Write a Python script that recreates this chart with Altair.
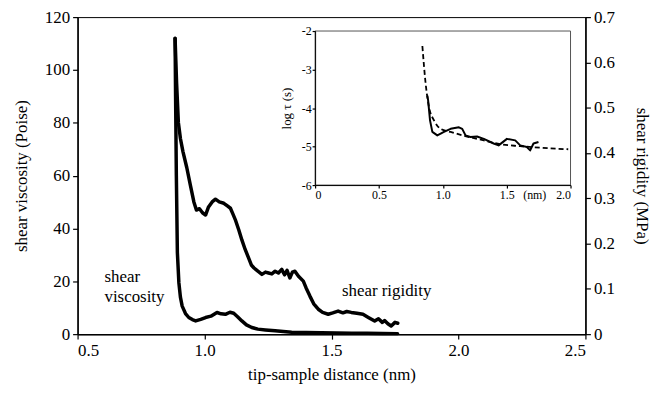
import altair as alt
import pandas as pd

FONT = "Liberation Serif"

# ---- main panel: shear viscosity (Poise) vs tip-sample distance (nm)
visc_x = [0.884, 0.886, 0.889, 0.893, 0.899, 0.905, 0.912, 0.925, 0.938, 0.952, 0.965, 0.985,
          1.004, 1.025, 1.049, 1.065, 1.082, 1.100, 1.115, 1.130, 1.147, 1.165, 1.186, 1.21,
          1.24, 1.278, 1.31, 1.343, 1.40, 1.46, 1.52, 1.58, 1.64, 1.70, 1.76]
visc_y = [112, 90, 60, 31, 19.4, 14, 10.6, 7.8, 6.3, 5.5, 5.0, 5.6,
          6.3, 6.8, 8.2, 7.7, 7.5, 8.3, 7.9, 6.6, 5.0, 3.5, 2.5, 1.9,
          1.6, 1.3, 1.0, 0.7, 0.6, 0.5, 0.4, 0.35, 0.3, 0.25, 0.2]

# ---- main panel: shear rigidity (MPa)
rig_x = [0.884, 0.890, 0.897, 0.905, 0.915, 0.930, 0.945, 0.958, 0.968, 0.980, 0.992, 1.004,
         1.015, 1.030, 1.043, 1.058, 1.076, 1.090, 1.102, 1.112, 1.121, 1.135, 1.147, 1.160,
         1.173, 1.185, 1.195, 1.21, 1.226, 1.24, 1.252, 1.265, 1.278, 1.291, 1.304, 1.315,
         1.325, 1.336, 1.346, 1.356, 1.37, 1.389, 1.40, 1.415, 1.43, 1.448, 1.465, 1.487,
         1.505, 1.526, 1.545, 1.56, 1.578, 1.60, 1.624, 1.645, 1.670, 1.685, 1.70, 1.709,
         1.722, 1.735, 1.75, 1.761]
rig_y = [0.653, 0.554, 0.467, 0.432, 0.403, 0.368, 0.327, 0.292, 0.274, 0.277, 0.268, 0.263,
         0.280, 0.292, 0.298, 0.292, 0.289, 0.283, 0.278, 0.265, 0.253, 0.230, 0.208, 0.187,
         0.169, 0.152, 0.146, 0.139, 0.132, 0.137, 0.135, 0.133, 0.139, 0.135, 0.143, 0.131,
         0.141, 0.124, 0.137, 0.139, 0.128, 0.117, 0.102, 0.084, 0.067, 0.055, 0.048, 0.044,
         0.047, 0.051, 0.047, 0.050, 0.048, 0.046, 0.044, 0.037, 0.029, 0.034, 0.026, 0.030,
         0.023, 0.018, 0.026, 0.024]

# ---- inset: log tau (s)
ins_solid_x = [0.879, 0.885, 0.900, 0.918, 0.957, 1.009, 1.061, 1.126, 1.152, 1.178, 1.216,
               1.268, 1.321, 1.398, 1.437, 1.502, 1.567, 1.606, 1.658, 1.684, 1.710, 1.749]
ins_solid_y = [-3.68, -3.80, -4.32, -4.62, -4.71, -4.62, -4.54, -4.50, -4.54, -4.71, -4.75,
               -4.74, -4.80, -4.92, -4.97, -4.80, -4.84, -4.97, -5.01, -5.10, -4.92, -4.88]
ins_dash_x = [0.840, 0.866, 0.892, 0.931, 0.983, 1.061, 1.191, 1.321, 1.450, 1.606, 1.761, 1.982]
ins_dash_y = [-2.39, -3.38, -3.98, -4.32, -4.54, -4.62, -4.74, -4.84, -4.94, -4.99, -5.03, -5.07]

labels_text = ["shear\nviscosity", "shear rigidity"]
labels_x = [0.606, 1.541]
labels_y = [19.9, 14.3]

main_x_ticks = [0.5, 1.0, 1.5, 2.0, 2.5]
visc_ticks = [0, 20, 40, 60, 80, 100, 120]
rig_ticks = [0, 0.1, 0.2, 0.3, 0.4, 0.5, 0.6, 0.7]
ins_x_ticks = [0, 0.5, 1.0, 1.5, 2.0]
ins_y_ticks = [-6, -5, -4, -3, -2]

W, H = 511, 319
INS_X_RANGE = [239, 496]
INS_Y_RANGE = [169, 14]

df_visc = pd.DataFrame({"x": visc_x, "v": visc_y})
df_rig = pd.DataFrame({"x": rig_x, "r": rig_y})
df_solid = pd.DataFrame({"x": ins_solid_x, "t": ins_solid_y})
df_dash = pd.DataFrame({"x": ins_dash_x, "t": ins_dash_y})
df_lab = pd.DataFrame({"x": labels_x, "y": labels_y, "text": labels_text})
df_box = pd.DataFrame({"x0": [0], "x1": [2], "y0": [-6], "y1": [-2]})
df_nm = pd.DataFrame({"x": [1.72], "y": [-6], "text": ["(nm)"]})

xs_main = alt.Scale(domain=[0.5, 2.5], nice=False, zero=False)
ys_visc = alt.Scale(domain=[0, 120], nice=False, zero=False)
ys_rig = alt.Scale(domain=[0, 0.7], nice=False, zero=False)
xs_ins = alt.Scale(domain=[0, 2], range=INS_X_RANGE, nice=False, zero=False)
ys_ins = alt.Scale(domain=[-6, -2], range=INS_Y_RANGE, nice=False, zero=False)

line_style = dict(color="black", strokeWidth=3.5, strokeCap="round", strokeJoin="round")

visc = alt.Chart(df_visc).mark_line(**line_style).encode(
    x=alt.X("x:Q", scale=xs_main, axis=alt.Axis(
        orient="bottom", values=main_x_ticks, format=".1f",
        title="tip-sample distance (nm)", titlePadding=9)),
    y=alt.Y("v:Q", scale=ys_visc, axis=alt.Axis(
        orient="left", values=visc_ticks, title="shear viscosity (Poise)", titlePadding=14)),
)

rig = alt.Chart(df_rig).mark_line(**line_style).encode(
    x=alt.X("x:Q", scale=xs_main, axis=None),
    y=alt.Y("r:Q", scale=ys_rig, axis=alt.Axis(
        orient="right", values=rig_ticks,
        labelExpr="datum.value == 0 ? '0' : format(datum.value, '.1f')",
        title="shear rigidity (MPa)", titlePadding=18)),
)

labels = alt.Chart(df_lab).mark_text(
    align="left", baseline="alphabetic", font=FONT, fontSize=17, lineBreak="\n",
    lineHeight=21, color="black").encode(
    x=alt.X("x:Q", scale=xs_main, axis=None),
    y=alt.Y("y:Q", scale=ys_visc, axis=None),
    text="text:N",
)

box = alt.Chart(df_box).mark_rect(fill="white", stroke="#555555", strokeWidth=1).encode(
    x=alt.X("x0:Q", scale=xs_ins, axis=alt.Axis(
        orient="bottom", offset=INS_Y_RANGE[0] - H, values=ins_x_ticks,
        labelExpr="datum.value == 0 ? '0' : format(datum.value, '.1f')",
        labelFontSize=12, tickSize=3, labelPadding=2, domainWidth=1, title=None, zindex=1)),
    x2="x1:Q",
    y=alt.Y("y0:Q", scale=ys_ins, axis=alt.Axis(
        orient="left", offset=-INS_X_RANGE[0], values=ins_y_ticks,
        labelExpr="'' + datum.value", labelFontSize=12, tickSize=3, labelPadding=1,
        domainWidth=1, title="log τ (s)", titleFontSize=13, titlePadding=8, zindex=1)),
    y2="y1:Q",
)

solid = alt.Chart(df_solid).mark_line(color="black", strokeWidth=2, strokeJoin="round").encode(
    x=alt.X("x:Q", scale=xs_ins, axis=None),
    y=alt.Y("t:Q", scale=ys_ins, axis=None),
)

dash = alt.Chart(df_dash).mark_line(color="black", strokeWidth=1.8, strokeDash=[5, 3],
                                    interpolate="monotone").encode(
    x=alt.X("x:Q", scale=xs_ins, axis=None),
    y=alt.Y("t:Q", scale=ys_ins, axis=None),
)

nm = alt.Chart(df_nm).mark_text(align="center", baseline="top", dy=5, font=FONT,
                                fontSize=12, color="black").encode(
    x=alt.X("x:Q", scale=xs_ins, axis=None),
    y=alt.Y("y:Q", scale=ys_ins, axis=None),
    text="text:N",
)

chart = alt.layer(visc, rig, labels, box, solid, dash, nm).resolve_scale(
    x="independent", y="independent"
).properties(
    width=W, height=H,
    background="white",
    autosize=alt.AutoSizeParams(type="none"),
    padding={"left": 70, "top": 8, "right": 70, "bottom": 50},
).configure_view(
    stroke="black", strokeWidth=1
).configure_axis(
    labelFont=FONT, titleFont=FONT, labelFontSize=17, titleFontSize=17,
    titleFontWeight="normal", labelColor="black", titleColor="black",
    domainColor="black", tickColor="black", domainWidth=1.5, tickWidth=1.2,
    tickSize=5, labelPadding=3, grid=False,
)

chart.save("out.html", embed_options={"renderer": "svg", "actions": False})
